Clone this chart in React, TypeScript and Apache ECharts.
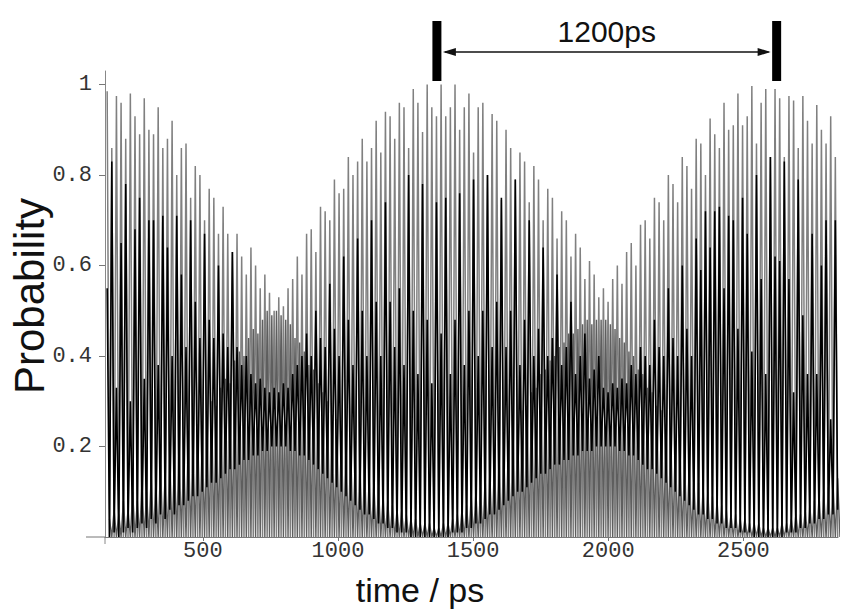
import React, { useEffect, useRef } from "react";
import * as echarts from "echarts";

// time sampling of the fast oscillation (one spike every DT ps)
const T0 = 146;
const DT = 17.16;

// grey series: height of each spike
const GREY_PEAKS = [
  0.985, 0.86, 0.975, 0.96, 0.88, 0.98, 0.93, 0.89, 0.97, 0.9,
  0.89, 0.95, 0.86, 0.88, 0.92, 0.8, 0.86, 0.87, 0.75, 0.82,
  0.8, 0.7, 0.77, 0.75, 0.67, 0.73, 0.67, 0.63, 0.67,
  0.62, 0.58, 0.64, 0.6, 0.55, 0.58, 0.54, 0.5, 0.53, 0.51, 0.55, 0.57,
  0.62, 0.58, 0.67, 0.68, 0.63, 0.73, 0.72, 0.7, 0.79, 0.76, 0.77, 0.84,
  0.8, 0.83, 0.88, 0.83, 0.86, 0.92, 0.85, 0.94, 0.93, 0.88,
  0.96, 0.95, 0.86, 0.99, 0.96, 0.895, 1.0, 0.95, 0.93, 1.0, 0.93, 0.95, 1.0, 0.9, 0.95, 0.98, 0.85, 0.95, 0.96, 0.8, 0.935, 0.92, 0.745, 0.9, 0.86, 0.79,
  0.85, 0.83, 0.74, 0.82, 0.79, 0.7, 0.77, 0.75, 0.66, 0.72, 0.7, 0.62, 0.67, 0.64, 0.57, 0.61, 0.58, 0.53, 0.55,
  0.52, 0.57, 0.6, 0.56, 0.63, 0.65, 0.6, 0.69, 0.7, 0.66, 0.75, 0.74, 0.7, 0.8, 0.78, 0.74, 0.84, 0.82, 0.77, 0.88,
  0.87, 0.8, 0.925, 0.89, 0.86, 0.96, 0.9, 0.91, 0.98, 0.91, 0.93, 0.997, 0.87, 0.96, 0.99, 0.84, 0.99, 0.97, 0.84, 0.975, 0.965, 0.86, 0.975, 0.92, 0.87, 0.955, 0.9, 0.87, 0.93, 0.84,
];
const GREY_TROUGH = 0.0;

// mid-grey series (hump at the valleys), spikes half a period later
const MID_PEAKS = [
  0.04, 0.06, 0.05, 0.08, 0.06, 0.1, 0.08, 0.12, 0.1, 0.14, 0.12,
  0.16, 0.14, 0.18, 0.17, 0.21, 0.19, 0.23, 0.21, 0.25, 0.23,
  0.27, 0.3, 0.29, 0.33, 0.35, 0.34, 0.39, 0.41, 0.4, 0.44, 0.46, 0.45, 0.48, 0.5, 0.49,
  0.5, 0.49, 0.48, 0.47, 0.44, 0.43, 0.41, 0.38, 0.37, 0.34, 0.32, 0.3, 0.27, 0.26, 0.23,
  0.21, 0.2, 0.18, 0.16, 0.15, 0.13, 0.12, 0.11, 0.09, 0.08, 0.07, 0.06, 0.06, 0.05, 0.04, 0.04, 0.03, 0.03, 0.03, 0.02,
  0.02, 0.03, 0.03, 0.04, 0.05, 0.06, 0.07, 0.09, 0.1, 0.11, 0.13, 0.14, 0.17, 0.18, 0.2,
  0.21, 0.24, 0.25, 0.28, 0.29, 0.32, 0.33, 0.36, 0.37, 0.39, 0.4, 0.42, 0.43, 0.45, 0.45, 0.46, 0.47, 0.48, 0.47, 0.48, 0.48,
  0.48, 0.47, 0.46, 0.44, 0.43, 0.41, 0.4, 0.37, 0.36, 0.33, 0.32, 0.29, 0.28, 0.25, 0.24, 0.21, 0.2, 0.17, 0.16, 0.13, 0.12,
  0.11, 0.1, 0.09, 0.08, 0.07, 0.06, 0.05, 0.05, 0.04, 0.04, 0.03, 0.03, 0.03, 0.02, 0.02, 0.02,
  0.02, 0.03, 0.03, 0.04, 0.05, 0.05, 0.06, 0.07, 0.08, 0.09, 0.1, 0.11, 0.12, 0.13,
];
const MID_TROUGH = 0.0;

// black series: spike tops and the troughs between them
const BLACK_PEAKS = [
  0.55, 0.83, 0.33, 0.65, 0.78, 0.3, 0.68, 0.75, 0.35, 0.7,
  0.7, 0.38, 0.71, 0.64, 0.4, 0.71, 0.58, 0.42, 0.7, 0.52,
  0.44, 0.67, 0.48, 0.44, 0.6, 0.45, 0.42, 0.63, 0.42, 0.38,
  0.4, 0.36, 0.34, 0.35, 0.33, 0.32, 0.33, 0.32, 0.34, 0.33, 0.36, 0.38, 0.4,
  0.45, 0.4, 0.5, 0.44, 0.42, 0.56, 0.46, 0.4, 0.62, 0.48, 0.38, 0.66, 0.5, 0.4, 0.7, 0.52, 0.4, 0.74, 0.52, 0.42,
  0.55, 0.38, 0.8, 0.5, 0.36, 0.78, 0.48, 0.34, 0.74, 0.45, 0.75, 0.36, 0.48, 0.76, 0.38, 0.5, 0.79, 0.4, 0.5, 0.8, 0.42, 0.52, 0.75, 0.42, 0.5, 0.79,
  0.38, 0.48, 0.7, 0.4, 0.46, 0.64, 0.4, 0.44, 0.58, 0.38, 0.42, 0.52, 0.36, 0.4, 0.45, 0.35, 0.37, 0.4,
  0.33, 0.32, 0.34, 0.33, 0.35, 0.34,
  0.38, 0.36, 0.42, 0.4, 0.38, 0.48, 0.42, 0.4, 0.55, 0.44, 0.4, 0.6, 0.46, 0.4, 0.66,
  0.59, 0.72, 0.64, 0.72, 0.73, 0.55, 0.71, 0.7, 0.46, 0.75, 0.67, 0.41, 0.8, 0.57, 0.36, 0.84, 0.62, 0.61, 0.83, 0.57, 0.32, 0.79, 0.49, 0.36, 0.67, 0.36, 0.6, 0.7, 0.26, 0.7,
];
const BLACK_TROUGHS = [
  0.0, 0.01, 0.0, 0.01, 0.02, 0.01, 0.02, 0.03, 0.02, 0.04, 0.03, 0.05, 0.04, 0.06, 0.05, 0.07, 0.07, 0.08, 0.09, 0.09, 0.1,
  0.11, 0.12, 0.12, 0.13, 0.14, 0.15, 0.15, 0.16, 0.17, 0.17, 0.18, 0.18, 0.19, 0.19, 0.2, 0.2,
  0.2, 0.2, 0.19, 0.19, 0.18, 0.18, 0.17, 0.16, 0.15, 0.14, 0.13, 0.12, 0.11, 0.1, 0.09, 0.08,
  0.07, 0.06, 0.05, 0.05, 0.04, 0.03, 0.03, 0.02, 0.02, 0.01, 0.01, 0.01, 0.0, 0.0, 0.0, 0.0, 0.0, 0.0,
  0.0, 0.0, 0.0, 0.01, 0.01, 0.01, 0.02, 0.02, 0.03, 0.03, 0.04, 0.05, 0.05, 0.06, 0.07, 0.08, 0.09, 0.1,
  0.1, 0.11, 0.12, 0.13, 0.14, 0.14, 0.15, 0.16, 0.16, 0.17, 0.17, 0.18, 0.18, 0.19, 0.19, 0.19, 0.2, 0.2,
  0.2, 0.2, 0.2, 0.19, 0.19, 0.18, 0.18, 0.17, 0.16, 0.15, 0.15, 0.14, 0.13, 0.12, 0.11, 0.1, 0.09, 0.08, 0.07, 0.06, 0.05,
  0.05, 0.04, 0.04, 0.03, 0.03, 0.02, 0.02, 0.02, 0.01, 0.01, 0.01, 0.0, 0.0, 0.0, 0.0, 0.0, 0.0, 0.0, 0.01, 0.01, 0.01, 0.02, 0.02, 0.03, 0.03, 0.04, 0.04, 0.05, 0.05, 0.06,
];

const X_TICKS = [500, 1000, 1500, 2000, 2500];
const Y_TICKS = [0.2, 0.4, 0.6, 0.8, 1];
const X_MIN = 138;
const X_MAX = 2850;
const Y_MAX = 1.03;
const MARKERS = [1366, 2623];
const MARKER_LABEL = "1200ps";
const X_NAME = "time / ps";
const Y_NAME = "Probability";

function zigzag(peaks: number[], troughAt: (i: number) => number, shift: number) {
  const out: number[][] = [];
  peaks.forEach((p, i) => {
    const t = T0 + i * DT + shift;
    out.push([t, p]);
    out.push([t + DT / 2, troughAt(i)]);
  });
  return out;
}

const SANS = '"Liberation Sans", Arial, Helvetica, sans-serif';
const MONO = '"Liberation Mono", "Courier New", monospace';

export default function App() {
  const ref = useRef<HTMLDivElement>(null);
  useEffect(() => {
    const chart = echarts.init(ref.current!, null, { renderer: "svg" });
    const option: any = {
      animation: false,
      backgroundColor: "#ffffff",
      grid: { left: 105, right: 6, top: 71, bottom: 73, containLabel: false },
      xAxis: {
        type: "value",
        min: X_MIN,
        max: X_MAX,
        axisLine: { show: true, lineStyle: { color: "#777", width: 1 } },
        axisTick: { show: true, customValues: X_TICKS, length: 4, lineStyle: { color: "#777" } },
        axisLabel: {
          customValues: X_TICKS,
          fontFamily: MONO,
          fontSize: 22,
          color: "#333",
          margin: 3,
          formatter: (v: number) => String(v),
        },
        splitLine: { show: false },
      },
      yAxis: {
        type: "value",
        min: 0,
        max: Y_MAX,
        axisLine: { show: true, lineStyle: { color: "#888", width: 1 } },
        axisTick: { show: true, customValues: Y_TICKS, length: 6, lineStyle: { color: "#777" } },
        axisLabel: {
          customValues: Y_TICKS,
          fontFamily: MONO,
          fontSize: 22,
          color: "#333",
          margin: 13,
          formatter: (v: number) => String(v),
        },
        splitLine: { show: false },
      },
      series: [
        {
          type: "line",
          data: zigzag(GREY_PEAKS, () => GREY_TROUGH, 0),
          symbol: "none",
          silent: true,
          clip: true,
          lineStyle: { color: "#808080", width: 1.5 },
          z: 2,
        },
        {
          type: "line",
          data: zigzag(MID_PEAKS, () => MID_TROUGH, DT / 2),
          symbol: "none",
          silent: true,
          clip: true,
          lineStyle: { color: "#5e5e5e", width: 1.4 },
          z: 3,
        },
        {
          type: "line",
          data: zigzag(BLACK_PEAKS, (i) => BLACK_TROUGHS[i], 0),
          symbol: "none",
          silent: true,
          clip: true,
          lineStyle: { color: "#000000", width: 1.6 },
          z: 4,
        },
      ],
    };
    chart.setOption(option);

    const m1 = chart.convertToPixel({ gridIndex: 0 }, [MARKERS[0], 0]) as number[];
    const m2 = chart.convertToPixel({ gridIndex: 0 }, [MARKERS[1], 0]) as number[];
    const origin = chart.convertToPixel({ gridIndex: 0 }, [X_MIN, 0]) as number[];
    const x1 = m1[0];
    const x2 = m2[0];
    const ay = 52;
    chart.setOption({
      graphic: [
        { type: "rect", shape: { x: x1 - 4.5, y: 21, width: 9, height: 60 }, style: { fill: "#000" } },
        { type: "rect", shape: { x: x2 - 4.5, y: 21, width: 9, height: 60 }, style: { fill: "#000" } },
        {
          type: "line",
          shape: { x1: x1 + 8, y1: ay, x2: x2 - 8, y2: ay },
          style: { stroke: "#111", lineWidth: 1.5 },
        },
        {
          type: "polygon",
          shape: { points: [[x1 + 6, ay], [x1 + 19, ay - 4], [x1 + 19, ay + 4]] },
          style: { fill: "#111" },
        },
        {
          type: "polygon",
          shape: { points: [[x2 - 6, ay], [x2 - 19, ay - 4], [x2 - 19, ay + 4]] },
          style: { fill: "#111" },
        },
        {
          type: "text",
          x: (x1 + x2) / 2,
          y: 31,
          style: {
            text: MARKER_LABEL,
            fontFamily: SANS,
            fontSize: 30,
            fill: "#111",
            textAlign: "center",
            textVerticalAlign: "middle",
          },
        },
        {
          type: "text",
          x: 420,
          y: 590,
          style: {
            text: X_NAME,
            fontFamily: SANS,
            fontSize: 34,
            fill: "#111",
            textAlign: "center",
            textVerticalAlign: "middle",
          },
        },
        {
          type: "text",
          x: 29,
          y: 296,
          rotation: Math.PI / 2,
          style: {
            text: Y_NAME,
            fontFamily: SANS,
            fontSize: 42,
            fill: "#111",
            textAlign: "center",
            textVerticalAlign: "middle",
          },
        },
        {
          type: "line",
          shape: { x1: origin[0] - 19, y1: origin[1], x2: origin[0], y2: origin[1] },
          style: { stroke: "#777", lineWidth: 1 },
        },
        {
          type: "line",
          shape: { x1: origin[0], y1: origin[1], x2: origin[0], y2: origin[1] + 7 },
          style: { stroke: "#888", lineWidth: 1 },
        },
      ],
    });
    return () => chart.dispose();
  }, []);
  return (
    <div
      ref={ref}
      style={{ position: "fixed", left: 0, top: 0, width: 844, height: 610, background: "#fff" }}
    />
  );
}
